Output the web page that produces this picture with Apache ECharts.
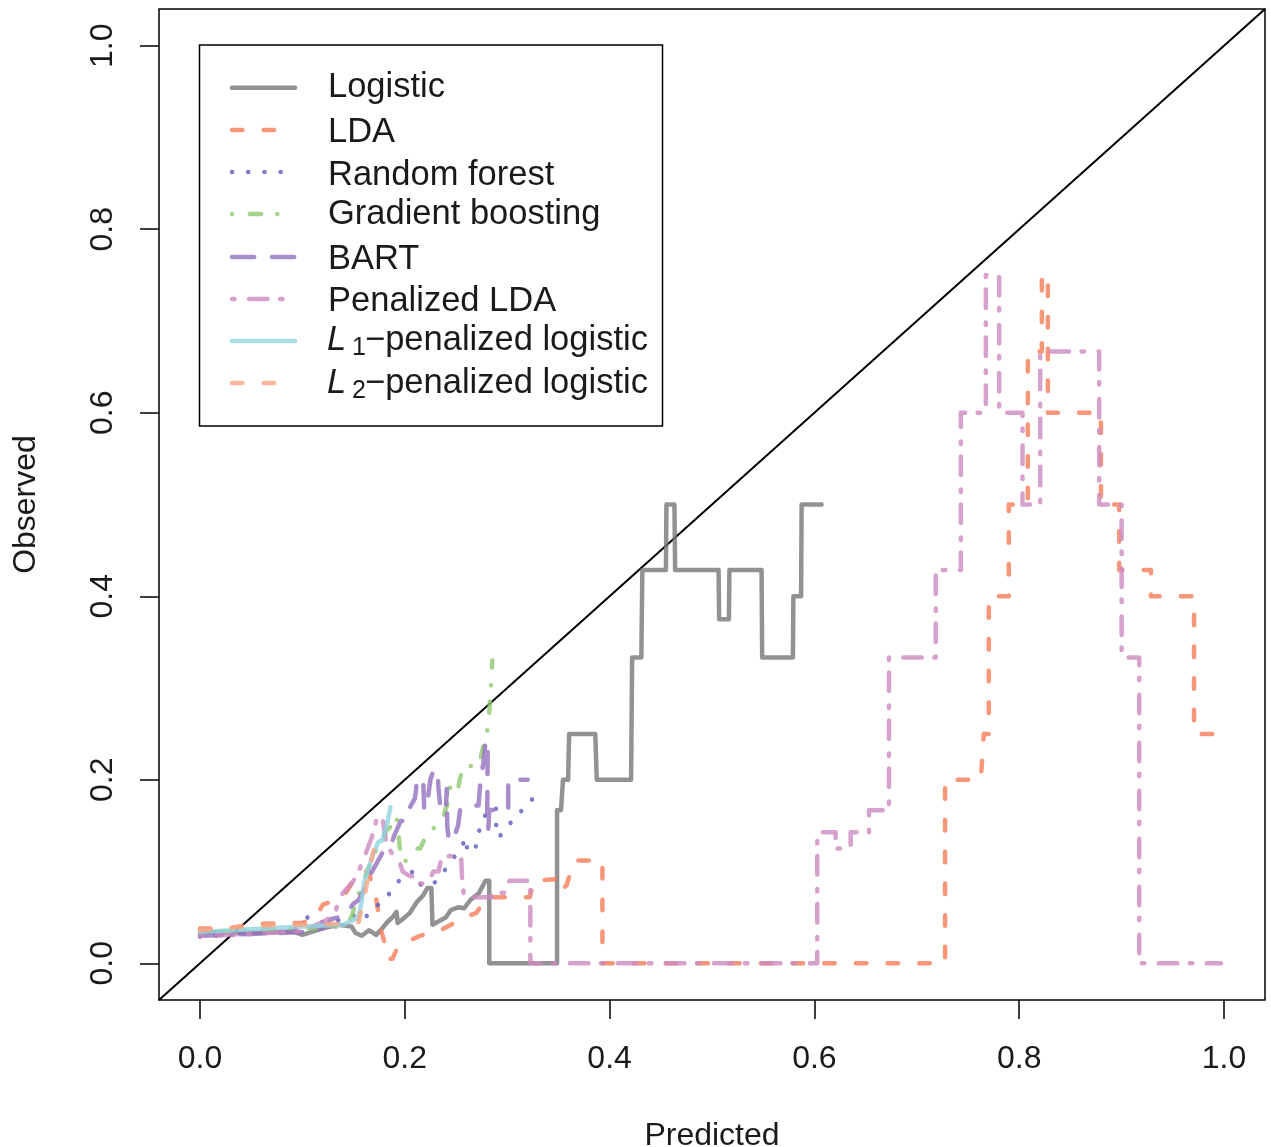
<!DOCTYPE html>
<html><head><meta charset="utf-8">
<script src="https://cdn.jsdelivr.net/npm/echarts@6/dist/echarts.min.js"></script>
<style>html,body{margin:0;padding:0;background:#fff}#c{width:1271px;height:1147px}</style>
</head><body><div id="c"></div>
<script>
// ---------- data ----------
const xTicks = [0, 0.2, 0.4, 0.6, 0.8, 1.0];
const yTicks = [0, 0.2, 0.4, 0.6, 0.8, 1.0];
const diagonal = [[-0.04, -0.04], [1.04, 1.04]];

const logistic = [
[0,0.034],[0.05,0.033],[0.09,0.035],[0.1,0.031],[0.12,0.038],[0.135,0.042],[0.148,0.04],[0.152,0.033],[0.158,0.03],[0.165,0.036],[0.172,0.031],[0.178,0.038],[0.183,0.045],[0.188,0.05],[0.192,0.056],[0.193,0.044],[0.2,0.05],[0.205,0.055],[0.212,0.067],[0.218,0.074],[0.222,0.082],[0.226,0.082],[0.227,0.042],[0.235,0.047],[0.24,0.05],[0.245,0.058],[0.252,0.061],[0.258,0.06],[0.264,0.069],[0.272,0.076],[0.279,0.09],[0.2825,0.09],[0.2825,0],[0.3487,0],[0.3487,0.1667],[0.3525,0.1667],[0.3545,0.2],[0.3595,0.2],[0.3605,0.25],[0.386,0.25],[0.3875,0.2],[0.421,0.2],[0.422,0.3333],[0.431,0.3333],[0.432,0.4286],[0.455,0.4286],[0.4555,0.5],[0.4633,0.5],[0.464,0.4286],[0.5064,0.4286],[0.507,0.375],[0.5165,0.375],[0.517,0.4286],[0.5484,0.4286],[0.549,0.3333],[0.579,0.3333],[0.5795,0.4],[0.587,0.4],[0.5875,0.5],[0.607,0.5]
];
const lda = [
[0,0.038],[0.03,0.038],[0.05,0.043],[0.1,0.044],[0.113,0.05],[0.12,0.064],[0.135,0.07],[0.142,0.076],[0.15,0.09],[0.156,0.1],[0.165,0.1],[0.168,0.085],[0.172,0.07],[0.175,0.05],[0.177,0.035],[0.181,0.02],[0.183,0.005],[0.188,0.005],[0.192,0.015],[0.197,0.02],[0.205,0.025],[0.215,0.03],[0.235,0.036],[0.245,0.042],[0.258,0.05],[0.27,0.055],[0.28,0.072],[0.322,0.072],[0.326,0.09],[0.352,0.092],[0.353,0.08],[0.358,0.085],[0.362,0.1],[0.366,0.112],[0.393,0.112],[0.393,0],[0.7276,0],[0.7276,0.2],[0.7625,0.2],[0.7654,0.25],[0.7703,0.25],[0.7703,0.4],[0.7898,0.4],[0.7898,0.5],[0.8084,0.5],[0.8084,0.6667],[0.8221,0.6667],[0.8221,0.75],[0.828,0.75],[0.828,0.6],[0.8798,0.6],[0.8798,0.5],[0.8976,0.5],[0.8976,0.4286],[0.9286,0.4286],[0.9286,0.4],[0.9707,0.4],[0.9707,0.25],[0.9941,0.25]
];
const randomForest = [
[0,0.029],[0.05,0.032],[0.09,0.034],[0.105,0.05],[0.112,0.045],[0.13,0.045],[0.15,0.052],[0.16,0.047],[0.168,0.06],[0.18,0.067],[0.187,0.08],[0.196,0.092],[0.208,0.1],[0.216,0.085],[0.222,0.083],[0.232,0.09],[0.24,0.103],[0.247,0.114],[0.255,0.126],[0.26,0.137],[0.261,0.121],[0.269,0.125],[0.272,0.142],[0.276,0.157],[0.2835,0.169],[0.289,0.17],[0.289,0.153],[0.291,0.137],[0.3,0.146],[0.306,0.159],[0.315,0.167],[0.323,0.175],[0.328,0.189]
];
const gradientBoosting = [
[0,0.033],[0.05,0.036],[0.1,0.038],[0.14,0.04],[0.148,0.05],[0.152,0.066],[0.155,0.076],[0.165,0.105],[0.17,0.12],[0.178,0.13],[0.182,0.145],[0.188,0.15],[0.19,0.16],[0.193,0.155],[0.195,0.126],[0.2,0.11],[0.205,0.12],[0.212,0.125],[0.215,0.125],[0.22,0.137],[0.228,0.147],[0.236,0.154],[0.242,0.175],[0.245,0.197],[0.252,0.19],[0.254,0.202],[0.258,0.215],[0.273,0.215],[0.275,0.229],[0.28,0.25],[0.282,0.265],[0.284,0.3],[0.2855,0.33]
];
const bart = [
[0,0.03],[0.05,0.032],[0.1,0.034],[0.12,0.038],[0.128,0.048],[0.135,0.05],[0.145,0.058],[0.15,0.065],[0.155,0.069],[0.16,0.08],[0.168,0.1],[0.178,0.12],[0.186,0.127],[0.19,0.14],[0.196,0.155],[0.2,0.155],[0.205,0.17],[0.21,0.18],[0.212,0.2],[0.218,0.2],[0.219,0.167],[0.222,0.175],[0.225,0.2],[0.228,0.21],[0.232,0.21],[0.233,0.19],[0.235,0.167],[0.24,0.167],[0.241,0.19],[0.2415,0.15],[0.243,0.134],[0.247,0.134],[0.252,0.15],[0.254,0.167],[0.261,0.167],[0.268,0.172],[0.272,0.172],[0.274,0.2],[0.277,0.22],[0.279,0.243],[0.281,0.24],[0.2805,0.158],[0.2815,0.145],[0.2825,0.167],[0.301,0.167],[0.301,0.2],[0.32,0.2]
];
const penalizedLDA = [
[0,0.03],[0.05,0.032],[0.1,0.035],[0.12,0.045],[0.128,0.05],[0.133,0.058],[0.135,0.07],[0.14,0.077],[0.15,0.09],[0.155,0.1],[0.16,0.115],[0.163,0.123],[0.167,0.135],[0.17,0.145],[0.173,0.16],[0.178,0.16],[0.182,0.13],[0.19,0.115],[0.195,0.11],[0.198,0.1],[0.205,0.095],[0.212,0.095],[0.215,0.087],[0.222,0.087],[0.228,0.1],[0.233,0.1],[0.236,0.116],[0.255,0.118],[0.256,0.09],[0.258,0.072],[0.285,0.072],[0.286,0.077],[0.3,0.077],[0.302,0.09],[0.3226,0.09],[0.3226,0],[0.6028,0],[0.6028,0.1429],[0.6207,0.1429],[0.6207,0.125],[0.6354,0.125],[0.6354,0.1429],[0.6533,0.1429],[0.6533,0.1667],[0.6728,0.1667],[0.6728,0.3333],[0.7185,0.3333],[0.7185,0.4286],[0.743,0.4286],[0.743,0.6],[0.7674,0.6],[0.7674,0.75],[0.7804,0.75],[0.7804,0.6],[0.8032,0.6],[0.8032,0.5],[0.8205,0.5],[0.8205,0.6667],[0.8781,0.6667],[0.8781,0.5],[0.9,0.5],[0.9,0.3333],[0.9172,0.3333],[0.9172,0],[0.997,0]
];
const l1Logistic = [
[0,0.034],[0.05,0.037],[0.1,0.04],[0.14,0.042],[0.1545,0.05],[0.158,0.067],[0.16,0.087],[0.164,0.101],[0.168,0.116],[0.174,0.132],[0.178,0.134],[0.183,0.153],[0.186,0.17]
];
const l2Logistic = [
[0,0.036],[0.05,0.041],[0.1,0.042],[0.14,0.043],[0.155,0.045],[0.158,0.06],[0.162,0.08],[0.165,0.1],[0.168,0.115],[0.17,0.125]
];

// ---------- styling ----------
const FONT = '"Liberation Sans", Arial, Helvetica, sans-serif';
const seriesDefs = [
  {name: 'Logistic',          data: logistic,         color: 'rgba(119,119,123,0.8)', dash: 'solid'},
  {name: 'LDA',               data: lda,              color: 'rgba(246,124,89,0.8)',  dash: [10.5, 21.2]},
  {name: 'Random forest',     data: randomForest,     color: 'rgba(101,101,191,0.85)',dash: [0.1, 16.1]},
  {name: 'Gradient boosting', data: gradientBoosting, color: 'rgba(143,200,110,0.8)', dash: [0.1, 17.7, 11.2, 16.3]},
  {name: 'BART',              data: bart,             color: 'rgba(147,111,190,0.8)', dash: [22.2, 17.8]},
  {name: 'Penalized LDA',     data: penalizedLDA,     color: 'rgba(205,138,193,0.8)', dash: [2.5, 14.5, 18.5, 12.5]},
  {name: 'L1',                data: l1Logistic,       color: 'rgba(146,211,224,0.8)', dash: 'solid'},
  {name: 'L2',                data: l2Logistic,       color: 'rgba(250,166,131,0.8)', dash: [10.5, 21.2]}
];
const LW = 4.5;

const series = [{
  type: 'line', data: diagonal, symbol: 'none', silent: true,
  lineStyle: {color: '#000', width: 2}, z: 1
}].concat(seriesDefs.map((d, i) => ({
  type: 'line', name: d.name, data: d.data, symbol: 'none', showSymbol: false, silent: true,
  lineStyle: {color: d.color, width: LW, type: d.dash, cap: 'round', join: 'round'}, z: 2 + i
})));

// legend drawn as graphic
const LFS = 34.5;
const legendRowsLine = [87.7, 130, 172, 214, 257, 299, 341, 383];
const legendRowsText = [87, 132, 175, 214, 259, 301, 340, 383];
const legendTexts = ['Logistic', 'LDA', 'Random forest', 'Gradient boosting', 'BART', 'Penalized LDA', null, null];
const graphic = [{
  type: 'rect', shape: {x: 199.5, y: 45, width: 463, height: 381},
  style: {fill: '#fff', stroke: '#000', lineWidth: 1.5}, z: 100
}];
seriesDefs.forEach((d, i) => {
  graphic.push({
    type: 'line', shape: {x1: 232, y1: legendRowsLine[i], x2: 295, y2: legendRowsLine[i]},
    style: {stroke: d.color, lineWidth: LW, lineDash: d.dash === 'solid' ? null : d.dash, lineCap: 'round'}, z: 101
  });
  if (legendTexts[i]) {
    graphic.push({type: 'text', x: 328, y: legendRowsText[i], z: 101,
      style: {text: legendTexts[i], font: LFS + 'px ' + FONT, fill: '#1a1a1a', verticalAlign: 'middle', align: 'left'}});
  } else {
    const sub = i === 6 ? '1' : '2';
    graphic.push({type: 'text', x: 327, y: legendRowsText[i], z: 101,
      style: {text: 'L', font: 'italic ' + LFS + 'px ' + FONT, fill: '#1a1a1a', verticalAlign: 'middle', align: 'left'}});
    graphic.push({type: 'text', x: 352, y: legendRowsText[i] + 8, z: 101,
      style: {text: sub, font: '25px ' + FONT, fill: '#1a1a1a', verticalAlign: 'middle', align: 'left'}});
    graphic.push({type: 'text', x: 365, y: legendRowsText[i], z: 101,
      style: {text: '\u2212penalized logistic', font: LFS + 'px ' + FONT, fill: '#1a1a1a', verticalAlign: 'middle', align: 'left'}});
  }
});

const axisCommon = (ticks) => ({
  type: 'value', min: -0.04, max: 1.04,
  axisLine: {show: false, onZero: false},
  splitLine: {show: false},
  axisTick: {show: true, customValues: ticks, length: 19, inside: false, lineStyle: {color: '#000', width: 1.5}},
  nameLocation: 'middle',
  nameTextStyle: {fontSize: 32, fontFamily: FONT, color: '#1a1a1a'}
});

const option = {
  animation: false,
  backgroundColor: '#fff',
  grid: {left: 159, right: 6, top: 9, bottom: 147, show: true, borderColor: '#000', borderWidth: 1.5,
         backgroundColor: 'transparent', containLabel: false, outerBoundsMode: 'none'},
  xAxis: Object.assign(axisCommon(xTicks), {
    name: 'Predicted', nameGap: 120,
    axisLabel: {customValues: xTicks, formatter: v => v.toFixed(1), fontSize: 32, fontFamily: FONT, color: '#1a1a1a', margin: 43}
  }),
  yAxis: Object.assign(axisCommon(yTicks), {
    name: 'Observed', nameGap: 117, nameRotate: 90,
    axisLabel: {customValues: yTicks, formatter: v => v.toFixed(1), fontSize: 32, fontFamily: FONT, color: '#1a1a1a', margin: 40, rotate: 90}
  }),
  series: series,
  graphic: graphic
};
const chart = echarts.init(document.getElementById('c'), null, {renderer: 'canvas'});
chart.setOption(option);
</script></body></html>
